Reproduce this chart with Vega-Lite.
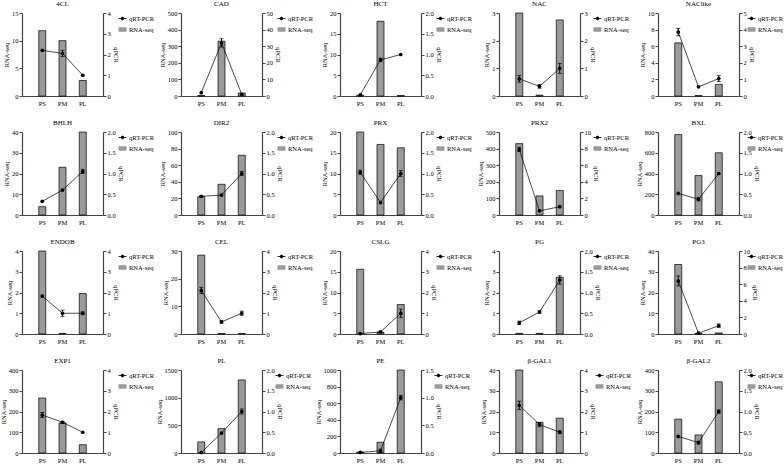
{
  "$schema": "https://vega.github.io/schema/vega-lite/v6.json",
  "padding": {"left": 0, "top": 0, "right": 0, "bottom": 0},
  "data": {
    "values": [
      {"gene": "4CL", "stage": "PS", "rna": 11.8, "qpcr": 2.2, "qlo": null, "qhi": null},
      {"gene": "4CL", "stage": "PM", "rna": 10.0, "qpcr": 2.05, "qlo": 1.9, "qhi": 2.2},
      {"gene": "4CL", "stage": "PL", "rna": 2.8, "qpcr": 1.0, "qlo": null, "qhi": null},
      {"gene": "CAD", "stage": "PS", "rna": 3, "qpcr": 2.0, "qlo": null, "qhi": null},
      {"gene": "CAD", "stage": "PM", "rna": 330, "qpcr": 32, "qlo": 29.5, "qhi": 34.5},
      {"gene": "CAD", "stage": "PL", "rna": 18, "qpcr": 1.0, "qlo": null, "qhi": null},
      {"gene": "HCT", "stage": "PS", "rna": 0.2, "qpcr": 0.03, "qlo": null, "qhi": null},
      {"gene": "HCT", "stage": "PM", "rna": 18, "qpcr": 0.87, "qlo": 0.83, "qhi": 0.91},
      {"gene": "HCT", "stage": "PL", "rna": 0.1, "qpcr": 1.0, "qlo": null, "qhi": null},
      {"gene": "NAC", "stage": "PS", "rna": 3, "qpcr": 0.62, "qlo": 0.5, "qhi": 0.74},
      {"gene": "NAC", "stage": "PM", "rna": 0.03, "qpcr": 0.35, "qlo": 0.28, "qhi": 0.42},
      {"gene": "NAC", "stage": "PL", "rna": 2.75, "qpcr": 1.0, "qlo": 0.82, "qhi": 1.18},
      {"gene": "NAClike", "stage": "PS", "rna": 6.4, "qpcr": 3.85, "qlo": 3.63, "qhi": 4.07},
      {"gene": "NAClike", "stage": "PM", "rna": 0.05, "qpcr": 0.55, "qlo": null, "qhi": null},
      {"gene": "NAClike", "stage": "PL", "rna": 1.4, "qpcr": 1.05, "qlo": 0.87, "qhi": 1.23},
      {"gene": "BHLH", "stage": "PS", "rna": 4, "qpcr": 0.33, "qlo": null, "qhi": null},
      {"gene": "BHLH", "stage": "PM", "rna": 23, "qpcr": 0.6, "qlo": null, "qhi": null},
      {"gene": "BHLH", "stage": "PL", "rna": 40, "qpcr": 1.05, "qlo": 1.0, "qhi": 1.1},
      {"gene": "DIR2", "stage": "PS", "rna": 22, "qpcr": 0.45, "qlo": 0.43, "qhi": 0.47},
      {"gene": "DIR2", "stage": "PM", "rna": 37, "qpcr": 0.48, "qlo": null, "qhi": null},
      {"gene": "DIR2", "stage": "PL", "rna": 72, "qpcr": 1.0, "qlo": 0.95, "qhi": 1.05},
      {"gene": "PRX", "stage": "PS", "rna": 20, "qpcr": 1.03, "qlo": 0.98, "qhi": 1.08},
      {"gene": "PRX", "stage": "PM", "rna": 17, "qpcr": 0.3, "qlo": null, "qhi": null},
      {"gene": "PRX", "stage": "PL", "rna": 16.2, "qpcr": 1.0, "qlo": 0.93, "qhi": 1.07},
      {"gene": "PRX2", "stage": "PS", "rna": 430, "qpcr": 7.9, "qlo": 7.65, "qhi": 8.15},
      {"gene": "PRX2", "stage": "PM", "rna": 115, "qpcr": 0.5, "qlo": null, "qhi": null},
      {"gene": "PRX2", "stage": "PL", "rna": 148, "qpcr": 1.0, "qlo": null, "qhi": null},
      {"gene": "BXL", "stage": "PS", "rna": 775, "qpcr": 0.52, "qlo": null, "qhi": null},
      {"gene": "BXL", "stage": "PM", "rna": 380, "qpcr": 0.38, "qlo": 0.34, "qhi": 0.42},
      {"gene": "BXL", "stage": "PL", "rna": 600, "qpcr": 1.0, "qlo": null, "qhi": null},
      {"gene": "ENDOB", "stage": "PS", "rna": 4, "qpcr": 1.83, "qlo": null, "qhi": null},
      {"gene": "ENDOB", "stage": "PM", "rna": 0.03, "qpcr": 1.0, "qlo": 0.85, "qhi": 1.15},
      {"gene": "ENDOB", "stage": "PL", "rna": 1.95, "qpcr": 1.0, "qlo": 0.93, "qhi": 1.07},
      {"gene": "CEL", "stage": "PS", "rna": 28.5, "qpcr": 2.1, "qlo": 1.95, "qhi": 2.25},
      {"gene": "CEL", "stage": "PM", "rna": 0.2, "qpcr": 0.58, "qlo": 0.52, "qhi": 0.64},
      {"gene": "CEL", "stage": "PL", "rna": 0.2, "qpcr": 1.0, "qlo": 0.9, "qhi": 1.1},
      {"gene": "CSLG", "stage": "PS", "rna": 15.6, "qpcr": 0.02, "qlo": null, "qhi": null},
      {"gene": "CSLG", "stage": "PM", "rna": 0.4, "qpcr": 0.1, "qlo": 0.07, "qhi": 0.13},
      {"gene": "CSLG", "stage": "PL", "rna": 7.1, "qpcr": 1.0, "qlo": 0.8, "qhi": 1.2},
      {"gene": "PG", "stage": "PS", "rna": 0.03, "qpcr": 0.27, "qlo": 0.23, "qhi": 0.31},
      {"gene": "PG", "stage": "PM", "rna": 0.03, "qpcr": 0.53, "qlo": 0.5, "qhi": 0.56},
      {"gene": "PG", "stage": "PL", "rna": 2.73, "qpcr": 1.3, "qlo": 1.2, "qhi": 1.4},
      {"gene": "PG3", "stage": "PS", "rna": 33.5, "qpcr": 6.4, "qlo": 5.8, "qhi": 7.0},
      {"gene": "PG3", "stage": "PM", "rna": 0.3, "qpcr": 0.1, "qlo": null, "qhi": null},
      {"gene": "PG3", "stage": "PL", "rna": 0.5, "qpcr": 1.0, "qlo": 0.8, "qhi": 1.2},
      {"gene": "EXP1", "stage": "PS", "rna": 265, "qpcr": 1.83, "qlo": 1.71, "qhi": 1.95},
      {"gene": "EXP1", "stage": "PM", "rna": 145, "qpcr": 1.48, "qlo": 1.43, "qhi": 1.53},
      {"gene": "EXP1", "stage": "PL", "rna": 40, "qpcr": 1.0, "qlo": null, "qhi": null},
      {"gene": "PL", "stage": "PS", "rna": 200, "qpcr": 0.01, "qlo": null, "qhi": null},
      {"gene": "PL", "stage": "PM", "rna": 440, "qpcr": 0.48, "qlo": null, "qhi": null},
      {"gene": "PL", "stage": "PL", "rna": 1320, "qpcr": 1.0, "qlo": 0.94, "qhi": 1.06},
      {"gene": "PE", "stage": "PS", "rna": 12, "qpcr": 0.01, "qlo": null, "qhi": null},
      {"gene": "PE", "stage": "PM", "rna": 130, "qpcr": 0.04, "qlo": 0.01, "qhi": 0.07},
      {"gene": "PE", "stage": "PL", "rna": 1000, "qpcr": 1.0, "qlo": 0.96, "qhi": 1.04},
      {"gene": "β-GAL1", "stage": "PS", "rna": 40, "qpcr": 2.3, "qlo": 2.1, "qhi": 2.5},
      {"gene": "β-GAL1", "stage": "PM", "rna": 14.8, "qpcr": 1.37, "qlo": 1.27, "qhi": 1.47},
      {"gene": "β-GAL1", "stage": "PL", "rna": 16.8, "qpcr": 1.0, "qlo": 0.93, "qhi": 1.07},
      {"gene": "β-GAL2", "stage": "PS", "rna": 163, "qpcr": 0.4, "qlo": null, "qhi": null},
      {"gene": "β-GAL2", "stage": "PM", "rna": 87, "qpcr": 0.25, "qlo": 0.22, "qhi": 0.28},
      {"gene": "β-GAL2", "stage": "PL", "rna": 343, "qpcr": 1.0, "qlo": 0.96, "qhi": 1.04}
    ]
  },
  "columns": 5,
  "spacing": {"row": 36, "column": 78},
  "bounds": "flush",
  "resolve": {"scale": {"color": "independent"}},
  "concat": [
    {"title": "4CL", "width": 81, "height": 83, "transform": [{"filter": "datum.gene === '4CL'"}],
     "encoding": {"x": {"field": "stage", "type": "nominal", "sort": ["PS", "PM", "PL"], "axis": {"title": null}}},
     "layer": [
       {"mark": {"type": "bar", "width": 7, "fill": "#9a9a9a", "stroke": "#000", "strokeWidth": 0.7},
        "encoding": {"y": {"field": "rna", "type": "quantitative", "scale": {"domain": [0, 15]}, "axis": {"title": "RNA-seq", "values": [0, 5, 10, 15], "format": "d"}}}},
       {"layer": [
         {"mark": {"type": "errorbar", "ticks": {"size": 4}, "color": "#000"}, "encoding": {"y": {"field": "qlo", "type": "quantitative", "scale": {"domain": [0, 4]}, "axis": {"orient": "right", "title": "qPCR", "values": [0, 1, 2, 3, 4], "format": "d"}}, "y2": {"field": "qhi"}}},
         {"mark": {"type": "line", "strokeWidth": 0.7, "point": {"filled": true, "size": 14}},
          "encoding": {"y": {"field": "qpcr", "type": "quantitative", "scale": {"domain": [0, 4]}, "axis": {"orient": "right", "title": "qPCR", "values": [0, 1, 2, 3, 4], "format": "d"}},
            "color": {"datum": "qRT-PCR", "scale": {"domain": ["qRT-PCR", "RNA-seq"], "range": ["#000", "#9a9a9a"]},
              "legend": {"title": null, "orient": "none", "legendX": 96, "legendY": 1, "encode": {"symbols": {"update": {"shape": {"signal": "datum.value === 'qRT-PCR' ? 'M-1,0H1M-0.35,0A0.35,0.35,0,1,1,0.35,0A0.35,0.35,0,1,1,-0.35,0Z' : 'M-0.9,-0.45H0.9V0.45H-0.9Z'"}, "fill": {"signal": "datum.value === 'qRT-PCR' ? '#000' : '#9a9a9a'"}, "stroke": {"value": "#000"}, "strokeWidth": {"value": 0.8}, "opacity": {"value": 1}}}}}}}}
       ]}
     ],
     "resolve": {"scale": {"y": "independent"}}},
    {"title": "CAD", "width": 81, "height": 83, "transform": [{"filter": "datum.gene === 'CAD'"}],
     "encoding": {"x": {"field": "stage", "type": "nominal", "sort": ["PS", "PM", "PL"], "axis": {"title": null}}},
     "layer": [
       {"mark": {"type": "bar", "width": 7, "fill": "#9a9a9a", "stroke": "#000", "strokeWidth": 0.7},
        "encoding": {"y": {"field": "rna", "type": "quantitative", "scale": {"domain": [0, 500]}, "axis": {"title": "RNA-seq", "values": [0, 100, 200, 300, 400, 500], "format": "d"}}}},
       {"layer": [
         {"mark": {"type": "errorbar", "ticks": {"size": 4}, "color": "#000"}, "encoding": {"y": {"field": "qlo", "type": "quantitative", "scale": {"domain": [0, 50]}, "axis": {"orient": "right", "title": "qPCR", "values": [0, 10, 20, 30, 40, 50], "format": "d"}}, "y2": {"field": "qhi"}}},
         {"mark": {"type": "line", "strokeWidth": 0.7, "point": {"filled": true, "size": 14}},
          "encoding": {"y": {"field": "qpcr", "type": "quantitative", "scale": {"domain": [0, 50]}, "axis": {"orient": "right", "title": "qPCR", "values": [0, 10, 20, 30, 40, 50], "format": "d"}},
            "color": {"datum": "qRT-PCR", "scale": {"domain": ["qRT-PCR", "RNA-seq"], "range": ["#000", "#9a9a9a"]},
              "legend": {"title": null, "orient": "none", "legendX": 96, "legendY": 1, "encode": {"symbols": {"update": {"shape": {"signal": "datum.value === 'qRT-PCR' ? 'M-1,0H1M-0.35,0A0.35,0.35,0,1,1,0.35,0A0.35,0.35,0,1,1,-0.35,0Z' : 'M-0.9,-0.45H0.9V0.45H-0.9Z'"}, "fill": {"signal": "datum.value === 'qRT-PCR' ? '#000' : '#9a9a9a'"}, "stroke": {"value": "#000"}, "strokeWidth": {"value": 0.8}, "opacity": {"value": 1}}}}}}}}
       ]}
     ],
     "resolve": {"scale": {"y": "independent"}}},
    {"title": "HCT", "width": 81, "height": 83, "transform": [{"filter": "datum.gene === 'HCT'"}],
     "encoding": {"x": {"field": "stage", "type": "nominal", "sort": ["PS", "PM", "PL"], "axis": {"title": null}}},
     "layer": [
       {"mark": {"type": "bar", "width": 7, "fill": "#9a9a9a", "stroke": "#000", "strokeWidth": 0.7},
        "encoding": {"y": {"field": "rna", "type": "quantitative", "scale": {"domain": [0, 20]}, "axis": {"title": "RNA-seq", "values": [0, 5, 10, 15, 20], "format": "d"}}}},
       {"layer": [
         {"mark": {"type": "errorbar", "ticks": {"size": 4}, "color": "#000"}, "encoding": {"y": {"field": "qlo", "type": "quantitative", "scale": {"domain": [0, 2]}, "axis": {"orient": "right", "title": "qPCR", "values": [0, 0.5, 1, 1.5, 2], "format": ".1f"}}, "y2": {"field": "qhi"}}},
         {"mark": {"type": "line", "strokeWidth": 0.7, "point": {"filled": true, "size": 14}},
          "encoding": {"y": {"field": "qpcr", "type": "quantitative", "scale": {"domain": [0, 2]}, "axis": {"orient": "right", "title": "qPCR", "values": [0, 0.5, 1, 1.5, 2], "format": ".1f"}},
            "color": {"datum": "qRT-PCR", "scale": {"domain": ["qRT-PCR", "RNA-seq"], "range": ["#000", "#9a9a9a"]},
              "legend": {"title": null, "orient": "none", "legendX": 96, "legendY": 1, "encode": {"symbols": {"update": {"shape": {"signal": "datum.value === 'qRT-PCR' ? 'M-1,0H1M-0.35,0A0.35,0.35,0,1,1,0.35,0A0.35,0.35,0,1,1,-0.35,0Z' : 'M-0.9,-0.45H0.9V0.45H-0.9Z'"}, "fill": {"signal": "datum.value === 'qRT-PCR' ? '#000' : '#9a9a9a'"}, "stroke": {"value": "#000"}, "strokeWidth": {"value": 0.8}, "opacity": {"value": 1}}}}}}}}
       ]}
     ],
     "resolve": {"scale": {"y": "independent"}}},
    {"title": "NAC", "width": 81, "height": 83, "transform": [{"filter": "datum.gene === 'NAC'"}],
     "encoding": {"x": {"field": "stage", "type": "nominal", "sort": ["PS", "PM", "PL"], "axis": {"title": null}}},
     "layer": [
       {"mark": {"type": "bar", "width": 7, "fill": "#9a9a9a", "stroke": "#000", "strokeWidth": 0.7},
        "encoding": {"y": {"field": "rna", "type": "quantitative", "scale": {"domain": [0, 3]}, "axis": {"title": "RNA-seq", "values": [0, 1, 2, 3], "format": "d"}}}},
       {"layer": [
         {"mark": {"type": "errorbar", "ticks": {"size": 4}, "color": "#000"}, "encoding": {"y": {"field": "qlo", "type": "quantitative", "scale": {"domain": [0, 3]}, "axis": {"orient": "right", "title": "qPCR", "values": [0, 1, 2, 3], "format": "d"}}, "y2": {"field": "qhi"}}},
         {"mark": {"type": "line", "strokeWidth": 0.7, "point": {"filled": true, "size": 14}},
          "encoding": {"y": {"field": "qpcr", "type": "quantitative", "scale": {"domain": [0, 3]}, "axis": {"orient": "right", "title": "qPCR", "values": [0, 1, 2, 3], "format": "d"}},
            "color": {"datum": "qRT-PCR", "scale": {"domain": ["qRT-PCR", "RNA-seq"], "range": ["#000", "#9a9a9a"]},
              "legend": {"title": null, "orient": "none", "legendX": 94, "legendY": 1, "encode": {"symbols": {"update": {"shape": {"signal": "datum.value === 'qRT-PCR' ? 'M-1,0H1M-0.35,0A0.35,0.35,0,1,1,0.35,0A0.35,0.35,0,1,1,-0.35,0Z' : 'M-0.9,-0.45H0.9V0.45H-0.9Z'"}, "fill": {"signal": "datum.value === 'qRT-PCR' ? '#000' : '#9a9a9a'"}, "stroke": {"value": "#000"}, "strokeWidth": {"value": 0.8}, "opacity": {"value": 1}}}}}}}}
       ]}
     ],
     "resolve": {"scale": {"y": "independent"}}},
    {"title": "NAClike", "width": 81, "height": 83, "transform": [{"filter": "datum.gene === 'NAClike'"}],
     "encoding": {"x": {"field": "stage", "type": "nominal", "sort": ["PS", "PM", "PL"], "axis": {"title": null}}},
     "layer": [
       {"mark": {"type": "bar", "width": 7, "fill": "#9a9a9a", "stroke": "#000", "strokeWidth": 0.7},
        "encoding": {"y": {"field": "rna", "type": "quantitative", "scale": {"domain": [0, 10]}, "axis": {"title": "RNA-seq", "values": [0, 2, 4, 6, 8, 10], "format": "d"}}}},
       {"layer": [
         {"mark": {"type": "errorbar", "ticks": {"size": 4}, "color": "#000"}, "encoding": {"y": {"field": "qlo", "type": "quantitative", "scale": {"domain": [0, 5]}, "axis": {"orient": "right", "title": "qPCR", "values": [0, 1, 2, 3, 4, 5], "format": "d"}}, "y2": {"field": "qhi"}}},
         {"mark": {"type": "line", "strokeWidth": 0.7, "point": {"filled": true, "size": 14}},
          "encoding": {"y": {"field": "qpcr", "type": "quantitative", "scale": {"domain": [0, 5]}, "axis": {"orient": "right", "title": "qPCR", "values": [0, 1, 2, 3, 4, 5], "format": "d"}},
            "color": {"datum": "qRT-PCR", "scale": {"domain": ["qRT-PCR", "RNA-seq"], "range": ["#000", "#9a9a9a"]},
              "legend": {"title": null, "orient": "none", "legendX": 89, "legendY": 1, "encode": {"symbols": {"update": {"shape": {"signal": "datum.value === 'qRT-PCR' ? 'M-1,0H1M-0.35,0A0.35,0.35,0,1,1,0.35,0A0.35,0.35,0,1,1,-0.35,0Z' : 'M-0.9,-0.45H0.9V0.45H-0.9Z'"}, "fill": {"signal": "datum.value === 'qRT-PCR' ? '#000' : '#9a9a9a'"}, "stroke": {"value": "#000"}, "strokeWidth": {"value": 0.8}, "opacity": {"value": 1}}}}}}}}
       ]}
     ],
     "resolve": {"scale": {"y": "independent"}}},
    {"title": "BHLH", "width": 81, "height": 83, "transform": [{"filter": "datum.gene === 'BHLH'"}],
     "encoding": {"x": {"field": "stage", "type": "nominal", "sort": ["PS", "PM", "PL"], "axis": {"title": null}}},
     "layer": [
       {"mark": {"type": "bar", "width": 7, "fill": "#9a9a9a", "stroke": "#000", "strokeWidth": 0.7},
        "encoding": {"y": {"field": "rna", "type": "quantitative", "scale": {"domain": [0, 40]}, "axis": {"title": "RNA-seq", "values": [0, 10, 20, 30, 40], "format": "d"}}}},
       {"layer": [
         {"mark": {"type": "errorbar", "ticks": {"size": 4}, "color": "#000"}, "encoding": {"y": {"field": "qlo", "type": "quantitative", "scale": {"domain": [0, 2]}, "axis": {"orient": "right", "title": "qPCR", "values": [0, 0.5, 1, 1.5, 2], "format": ".1f"}}, "y2": {"field": "qhi"}}},
         {"mark": {"type": "line", "strokeWidth": 0.7, "point": {"filled": true, "size": 14}},
          "encoding": {"y": {"field": "qpcr", "type": "quantitative", "scale": {"domain": [0, 2]}, "axis": {"orient": "right", "title": "qPCR", "values": [0, 0.5, 1, 1.5, 2], "format": ".1f"}},
            "color": {"datum": "qRT-PCR", "scale": {"domain": ["qRT-PCR", "RNA-seq"], "range": ["#000", "#9a9a9a"]},
              "legend": {"title": null, "orient": "none", "legendX": 96, "legendY": 1, "encode": {"symbols": {"update": {"shape": {"signal": "datum.value === 'qRT-PCR' ? 'M-1,0H1M-0.35,0A0.35,0.35,0,1,1,0.35,0A0.35,0.35,0,1,1,-0.35,0Z' : 'M-0.9,-0.45H0.9V0.45H-0.9Z'"}, "fill": {"signal": "datum.value === 'qRT-PCR' ? '#000' : '#9a9a9a'"}, "stroke": {"value": "#000"}, "strokeWidth": {"value": 0.8}, "opacity": {"value": 1}}}}}}}}
       ]}
     ],
     "resolve": {"scale": {"y": "independent"}}},
    {"title": "DIR2", "width": 81, "height": 83, "transform": [{"filter": "datum.gene === 'DIR2'"}],
     "encoding": {"x": {"field": "stage", "type": "nominal", "sort": ["PS", "PM", "PL"], "axis": {"title": null}}},
     "layer": [
       {"mark": {"type": "bar", "width": 7, "fill": "#9a9a9a", "stroke": "#000", "strokeWidth": 0.7},
        "encoding": {"y": {"field": "rna", "type": "quantitative", "scale": {"domain": [0, 100]}, "axis": {"title": "RNA-seq", "values": [0, 20, 40, 60, 80, 100], "format": "d"}}}},
       {"layer": [
         {"mark": {"type": "errorbar", "ticks": {"size": 4}, "color": "#000"}, "encoding": {"y": {"field": "qlo", "type": "quantitative", "scale": {"domain": [0, 2]}, "axis": {"orient": "right", "title": "qPCR", "values": [0, 0.5, 1, 1.5, 2], "format": ".1f"}}, "y2": {"field": "qhi"}}},
         {"mark": {"type": "line", "strokeWidth": 0.7, "point": {"filled": true, "size": 14}},
          "encoding": {"y": {"field": "qpcr", "type": "quantitative", "scale": {"domain": [0, 2]}, "axis": {"orient": "right", "title": "qPCR", "values": [0, 0.5, 1, 1.5, 2], "format": ".1f"}},
            "color": {"datum": "qRT-PCR", "scale": {"domain": ["qRT-PCR", "RNA-seq"], "range": ["#000", "#9a9a9a"]},
              "legend": {"title": null, "orient": "none", "legendX": 96, "legendY": 1, "encode": {"symbols": {"update": {"shape": {"signal": "datum.value === 'qRT-PCR' ? 'M-1,0H1M-0.35,0A0.35,0.35,0,1,1,0.35,0A0.35,0.35,0,1,1,-0.35,0Z' : 'M-0.9,-0.45H0.9V0.45H-0.9Z'"}, "fill": {"signal": "datum.value === 'qRT-PCR' ? '#000' : '#9a9a9a'"}, "stroke": {"value": "#000"}, "strokeWidth": {"value": 0.8}, "opacity": {"value": 1}}}}}}}}
       ]}
     ],
     "resolve": {"scale": {"y": "independent"}}},
    {"title": "PRX", "width": 81, "height": 83, "transform": [{"filter": "datum.gene === 'PRX'"}],
     "encoding": {"x": {"field": "stage", "type": "nominal", "sort": ["PS", "PM", "PL"], "axis": {"title": null}}},
     "layer": [
       {"mark": {"type": "bar", "width": 7, "fill": "#9a9a9a", "stroke": "#000", "strokeWidth": 0.7},
        "encoding": {"y": {"field": "rna", "type": "quantitative", "scale": {"domain": [0, 20]}, "axis": {"title": "RNA-seq", "values": [0, 5, 10, 15, 20], "format": "d"}}}},
       {"layer": [
         {"mark": {"type": "errorbar", "ticks": {"size": 4}, "color": "#000"}, "encoding": {"y": {"field": "qlo", "type": "quantitative", "scale": {"domain": [0, 2]}, "axis": {"orient": "right", "title": "qPCR", "values": [0, 0.5, 1, 1.5, 2], "format": ".1f"}}, "y2": {"field": "qhi"}}},
         {"mark": {"type": "line", "strokeWidth": 0.7, "point": {"filled": true, "size": 14}},
          "encoding": {"y": {"field": "qpcr", "type": "quantitative", "scale": {"domain": [0, 2]}, "axis": {"orient": "right", "title": "qPCR", "values": [0, 0.5, 1, 1.5, 2], "format": ".1f"}},
            "color": {"datum": "qRT-PCR", "scale": {"domain": ["qRT-PCR", "RNA-seq"], "range": ["#000", "#9a9a9a"]},
              "legend": {"title": null, "orient": "none", "legendX": 96, "legendY": 1, "encode": {"symbols": {"update": {"shape": {"signal": "datum.value === 'qRT-PCR' ? 'M-1,0H1M-0.35,0A0.35,0.35,0,1,1,0.35,0A0.35,0.35,0,1,1,-0.35,0Z' : 'M-0.9,-0.45H0.9V0.45H-0.9Z'"}, "fill": {"signal": "datum.value === 'qRT-PCR' ? '#000' : '#9a9a9a'"}, "stroke": {"value": "#000"}, "strokeWidth": {"value": 0.8}, "opacity": {"value": 1}}}}}}}}
       ]}
     ],
     "resolve": {"scale": {"y": "independent"}}},
    {"title": "PRX2", "width": 81, "height": 83, "transform": [{"filter": "datum.gene === 'PRX2'"}],
     "encoding": {"x": {"field": "stage", "type": "nominal", "sort": ["PS", "PM", "PL"], "axis": {"title": null}}},
     "layer": [
       {"mark": {"type": "bar", "width": 7, "fill": "#9a9a9a", "stroke": "#000", "strokeWidth": 0.7},
        "encoding": {"y": {"field": "rna", "type": "quantitative", "scale": {"domain": [0, 500]}, "axis": {"title": "RNA-seq", "values": [0, 100, 200, 300, 400, 500], "format": "d"}}}},
       {"layer": [
         {"mark": {"type": "errorbar", "ticks": {"size": 4}, "color": "#000"}, "encoding": {"y": {"field": "qlo", "type": "quantitative", "scale": {"domain": [0, 10]}, "axis": {"orient": "right", "title": "qPCR", "values": [0, 2, 4, 6, 8, 10], "format": "d"}}, "y2": {"field": "qhi"}}},
         {"mark": {"type": "line", "strokeWidth": 0.7, "point": {"filled": true, "size": 14}},
          "encoding": {"y": {"field": "qpcr", "type": "quantitative", "scale": {"domain": [0, 10]}, "axis": {"orient": "right", "title": "qPCR", "values": [0, 2, 4, 6, 8, 10], "format": "d"}},
            "color": {"datum": "qRT-PCR", "scale": {"domain": ["qRT-PCR", "RNA-seq"], "range": ["#000", "#9a9a9a"]},
              "legend": {"title": null, "orient": "none", "legendX": 94, "legendY": 1, "encode": {"symbols": {"update": {"shape": {"signal": "datum.value === 'qRT-PCR' ? 'M-1,0H1M-0.35,0A0.35,0.35,0,1,1,0.35,0A0.35,0.35,0,1,1,-0.35,0Z' : 'M-0.9,-0.45H0.9V0.45H-0.9Z'"}, "fill": {"signal": "datum.value === 'qRT-PCR' ? '#000' : '#9a9a9a'"}, "stroke": {"value": "#000"}, "strokeWidth": {"value": 0.8}, "opacity": {"value": 1}}}}}}}}
       ]}
     ],
     "resolve": {"scale": {"y": "independent"}}},
    {"title": "BXL", "width": 81, "height": 83, "transform": [{"filter": "datum.gene === 'BXL'"}],
     "encoding": {"x": {"field": "stage", "type": "nominal", "sort": ["PS", "PM", "PL"], "axis": {"title": null}}},
     "layer": [
       {"mark": {"type": "bar", "width": 7, "fill": "#9a9a9a", "stroke": "#000", "strokeWidth": 0.7},
        "encoding": {"y": {"field": "rna", "type": "quantitative", "scale": {"domain": [0, 800]}, "axis": {"title": "RNA-seq", "values": [0, 200, 400, 600, 800], "format": "d"}}}},
       {"layer": [
         {"mark": {"type": "errorbar", "ticks": {"size": 4}, "color": "#000"}, "encoding": {"y": {"field": "qlo", "type": "quantitative", "scale": {"domain": [0, 2]}, "axis": {"orient": "right", "title": "qPCR", "values": [0, 0.5, 1, 1.5, 2], "format": ".1f"}}, "y2": {"field": "qhi"}}},
         {"mark": {"type": "line", "strokeWidth": 0.7, "point": {"filled": true, "size": 14}},
          "encoding": {"y": {"field": "qpcr", "type": "quantitative", "scale": {"domain": [0, 2]}, "axis": {"orient": "right", "title": "qPCR", "values": [0, 0.5, 1, 1.5, 2], "format": ".1f"}},
            "color": {"datum": "qRT-PCR", "scale": {"domain": ["qRT-PCR", "RNA-seq"], "range": ["#000", "#9a9a9a"]},
              "legend": {"title": null, "orient": "none", "legendX": 89, "legendY": 1, "encode": {"symbols": {"update": {"shape": {"signal": "datum.value === 'qRT-PCR' ? 'M-1,0H1M-0.35,0A0.35,0.35,0,1,1,0.35,0A0.35,0.35,0,1,1,-0.35,0Z' : 'M-0.9,-0.45H0.9V0.45H-0.9Z'"}, "fill": {"signal": "datum.value === 'qRT-PCR' ? '#000' : '#9a9a9a'"}, "stroke": {"value": "#000"}, "strokeWidth": {"value": 0.8}, "opacity": {"value": 1}}}}}}}}
       ]}
     ],
     "resolve": {"scale": {"y": "independent"}}},
    {"title": "ENDOB", "width": 81, "height": 83, "transform": [{"filter": "datum.gene === 'ENDOB'"}],
     "encoding": {"x": {"field": "stage", "type": "nominal", "sort": ["PS", "PM", "PL"], "axis": {"title": null}}},
     "layer": [
       {"mark": {"type": "bar", "width": 7, "fill": "#9a9a9a", "stroke": "#000", "strokeWidth": 0.7},
        "encoding": {"y": {"field": "rna", "type": "quantitative", "scale": {"domain": [0, 4]}, "axis": {"title": "RNA-seq", "values": [0, 1, 2, 3, 4], "format": "d"}}}},
       {"layer": [
         {"mark": {"type": "errorbar", "ticks": {"size": 4}, "color": "#000"}, "encoding": {"y": {"field": "qlo", "type": "quantitative", "scale": {"domain": [0, 4]}, "axis": {"orient": "right", "title": "qPCR", "values": [0, 1, 2, 3, 4], "format": "d"}}, "y2": {"field": "qhi"}}},
         {"mark": {"type": "line", "strokeWidth": 0.7, "point": {"filled": true, "size": 14}},
          "encoding": {"y": {"field": "qpcr", "type": "quantitative", "scale": {"domain": [0, 4]}, "axis": {"orient": "right", "title": "qPCR", "values": [0, 1, 2, 3, 4], "format": "d"}},
            "color": {"datum": "qRT-PCR", "scale": {"domain": ["qRT-PCR", "RNA-seq"], "range": ["#000", "#9a9a9a"]},
              "legend": {"title": null, "orient": "none", "legendX": 96, "legendY": 1, "encode": {"symbols": {"update": {"shape": {"signal": "datum.value === 'qRT-PCR' ? 'M-1,0H1M-0.35,0A0.35,0.35,0,1,1,0.35,0A0.35,0.35,0,1,1,-0.35,0Z' : 'M-0.9,-0.45H0.9V0.45H-0.9Z'"}, "fill": {"signal": "datum.value === 'qRT-PCR' ? '#000' : '#9a9a9a'"}, "stroke": {"value": "#000"}, "strokeWidth": {"value": 0.8}, "opacity": {"value": 1}}}}}}}}
       ]}
     ],
     "resolve": {"scale": {"y": "independent"}}},
    {"title": "CEL", "width": 81, "height": 83, "transform": [{"filter": "datum.gene === 'CEL'"}],
     "encoding": {"x": {"field": "stage", "type": "nominal", "sort": ["PS", "PM", "PL"], "axis": {"title": null}}},
     "layer": [
       {"mark": {"type": "bar", "width": 7, "fill": "#9a9a9a", "stroke": "#000", "strokeWidth": 0.7},
        "encoding": {"y": {"field": "rna", "type": "quantitative", "scale": {"domain": [0, 30]}, "axis": {"title": "RNA-seq", "values": [0, 10, 20, 30], "format": "d"}}}},
       {"layer": [
         {"mark": {"type": "errorbar", "ticks": {"size": 4}, "color": "#000"}, "encoding": {"y": {"field": "qlo", "type": "quantitative", "scale": {"domain": [0, 4]}, "axis": {"orient": "right", "title": "qPCR", "values": [0, 1, 2, 3, 4], "format": "d"}}, "y2": {"field": "qhi"}}},
         {"mark": {"type": "line", "strokeWidth": 0.7, "point": {"filled": true, "size": 14}},
          "encoding": {"y": {"field": "qpcr", "type": "quantitative", "scale": {"domain": [0, 4]}, "axis": {"orient": "right", "title": "qPCR", "values": [0, 1, 2, 3, 4], "format": "d"}},
            "color": {"datum": "qRT-PCR", "scale": {"domain": ["qRT-PCR", "RNA-seq"], "range": ["#000", "#9a9a9a"]},
              "legend": {"title": null, "orient": "none", "legendX": 96, "legendY": 1, "encode": {"symbols": {"update": {"shape": {"signal": "datum.value === 'qRT-PCR' ? 'M-1,0H1M-0.35,0A0.35,0.35,0,1,1,0.35,0A0.35,0.35,0,1,1,-0.35,0Z' : 'M-0.9,-0.45H0.9V0.45H-0.9Z'"}, "fill": {"signal": "datum.value === 'qRT-PCR' ? '#000' : '#9a9a9a'"}, "stroke": {"value": "#000"}, "strokeWidth": {"value": 0.8}, "opacity": {"value": 1}}}}}}}}
       ]}
     ],
     "resolve": {"scale": {"y": "independent"}}},
    {"title": "CSLG", "width": 81, "height": 83, "transform": [{"filter": "datum.gene === 'CSLG'"}],
     "encoding": {"x": {"field": "stage", "type": "nominal", "sort": ["PS", "PM", "PL"], "axis": {"title": null}}},
     "layer": [
       {"mark": {"type": "bar", "width": 7, "fill": "#9a9a9a", "stroke": "#000", "strokeWidth": 0.7},
        "encoding": {"y": {"field": "rna", "type": "quantitative", "scale": {"domain": [0, 20]}, "axis": {"title": "RNA-seq", "values": [0, 5, 10, 15, 20], "format": "d"}}}},
       {"layer": [
         {"mark": {"type": "errorbar", "ticks": {"size": 4}, "color": "#000"}, "encoding": {"y": {"field": "qlo", "type": "quantitative", "scale": {"domain": [0, 4]}, "axis": {"orient": "right", "title": "qPCR", "values": [0, 1, 2, 3, 4], "format": "d"}}, "y2": {"field": "qhi"}}},
         {"mark": {"type": "line", "strokeWidth": 0.7, "point": {"filled": true, "size": 14}},
          "encoding": {"y": {"field": "qpcr", "type": "quantitative", "scale": {"domain": [0, 4]}, "axis": {"orient": "right", "title": "qPCR", "values": [0, 1, 2, 3, 4], "format": "d"}},
            "color": {"datum": "qRT-PCR", "scale": {"domain": ["qRT-PCR", "RNA-seq"], "range": ["#000", "#9a9a9a"]},
              "legend": {"title": null, "orient": "none", "legendX": 96, "legendY": 1, "encode": {"symbols": {"update": {"shape": {"signal": "datum.value === 'qRT-PCR' ? 'M-1,0H1M-0.35,0A0.35,0.35,0,1,1,0.35,0A0.35,0.35,0,1,1,-0.35,0Z' : 'M-0.9,-0.45H0.9V0.45H-0.9Z'"}, "fill": {"signal": "datum.value === 'qRT-PCR' ? '#000' : '#9a9a9a'"}, "stroke": {"value": "#000"}, "strokeWidth": {"value": 0.8}, "opacity": {"value": 1}}}}}}}}
       ]}
     ],
     "resolve": {"scale": {"y": "independent"}}},
    {"title": "PG", "width": 81, "height": 83, "transform": [{"filter": "datum.gene === 'PG'"}],
     "encoding": {"x": {"field": "stage", "type": "nominal", "sort": ["PS", "PM", "PL"], "axis": {"title": null}}},
     "layer": [
       {"mark": {"type": "bar", "width": 7, "fill": "#9a9a9a", "stroke": "#000", "strokeWidth": 0.7},
        "encoding": {"y": {"field": "rna", "type": "quantitative", "scale": {"domain": [0, 4]}, "axis": {"title": "RNA-seq", "values": [0, 1, 2, 3, 4], "format": "d"}}}},
       {"layer": [
         {"mark": {"type": "errorbar", "ticks": {"size": 4}, "color": "#000"}, "encoding": {"y": {"field": "qlo", "type": "quantitative", "scale": {"domain": [0, 2]}, "axis": {"orient": "right", "title": "qPCR", "values": [0, 0.5, 1, 1.5, 2], "format": ".1f"}}, "y2": {"field": "qhi"}}},
         {"mark": {"type": "line", "strokeWidth": 0.7, "point": {"filled": true, "size": 14}},
          "encoding": {"y": {"field": "qpcr", "type": "quantitative", "scale": {"domain": [0, 2]}, "axis": {"orient": "right", "title": "qPCR", "values": [0, 0.5, 1, 1.5, 2], "format": ".1f"}},
            "color": {"datum": "qRT-PCR", "scale": {"domain": ["qRT-PCR", "RNA-seq"], "range": ["#000", "#9a9a9a"]},
              "legend": {"title": null, "orient": "none", "legendX": 94, "legendY": 1, "encode": {"symbols": {"update": {"shape": {"signal": "datum.value === 'qRT-PCR' ? 'M-1,0H1M-0.35,0A0.35,0.35,0,1,1,0.35,0A0.35,0.35,0,1,1,-0.35,0Z' : 'M-0.9,-0.45H0.9V0.45H-0.9Z'"}, "fill": {"signal": "datum.value === 'qRT-PCR' ? '#000' : '#9a9a9a'"}, "stroke": {"value": "#000"}, "strokeWidth": {"value": 0.8}, "opacity": {"value": 1}}}}}}}}
       ]}
     ],
     "resolve": {"scale": {"y": "independent"}}},
    {"title": "PG3", "width": 81, "height": 83, "transform": [{"filter": "datum.gene === 'PG3'"}],
     "encoding": {"x": {"field": "stage", "type": "nominal", "sort": ["PS", "PM", "PL"], "axis": {"title": null}}},
     "layer": [
       {"mark": {"type": "bar", "width": 7, "fill": "#9a9a9a", "stroke": "#000", "strokeWidth": 0.7},
        "encoding": {"y": {"field": "rna", "type": "quantitative", "scale": {"domain": [0, 40]}, "axis": {"title": "RNA-seq", "values": [0, 10, 20, 30, 40], "format": "d"}}}},
       {"layer": [
         {"mark": {"type": "errorbar", "ticks": {"size": 4}, "color": "#000"}, "encoding": {"y": {"field": "qlo", "type": "quantitative", "scale": {"domain": [0, 10]}, "axis": {"orient": "right", "title": "qPCR", "values": [0, 2, 4, 6, 8, 10], "format": "d"}}, "y2": {"field": "qhi"}}},
         {"mark": {"type": "line", "strokeWidth": 0.7, "point": {"filled": true, "size": 14}},
          "encoding": {"y": {"field": "qpcr", "type": "quantitative", "scale": {"domain": [0, 10]}, "axis": {"orient": "right", "title": "qPCR", "values": [0, 2, 4, 6, 8, 10], "format": "d"}},
            "color": {"datum": "qRT-PCR", "scale": {"domain": ["qRT-PCR", "RNA-seq"], "range": ["#000", "#9a9a9a"]},
              "legend": {"title": null, "orient": "none", "legendX": 89, "legendY": 1, "encode": {"symbols": {"update": {"shape": {"signal": "datum.value === 'qRT-PCR' ? 'M-1,0H1M-0.35,0A0.35,0.35,0,1,1,0.35,0A0.35,0.35,0,1,1,-0.35,0Z' : 'M-0.9,-0.45H0.9V0.45H-0.9Z'"}, "fill": {"signal": "datum.value === 'qRT-PCR' ? '#000' : '#9a9a9a'"}, "stroke": {"value": "#000"}, "strokeWidth": {"value": 0.8}, "opacity": {"value": 1}}}}}}}}
       ]}
     ],
     "resolve": {"scale": {"y": "independent"}}},
    {"title": "EXP1", "width": 81, "height": 83, "transform": [{"filter": "datum.gene === 'EXP1'"}],
     "encoding": {"x": {"field": "stage", "type": "nominal", "sort": ["PS", "PM", "PL"], "axis": {"title": null}}},
     "layer": [
       {"mark": {"type": "bar", "width": 7, "fill": "#9a9a9a", "stroke": "#000", "strokeWidth": 0.7},
        "encoding": {"y": {"field": "rna", "type": "quantitative", "scale": {"domain": [0, 400]}, "axis": {"title": "RNA-seq", "values": [0, 100, 200, 300, 400], "format": "d"}}}},
       {"layer": [
         {"mark": {"type": "errorbar", "ticks": {"size": 4}, "color": "#000"}, "encoding": {"y": {"field": "qlo", "type": "quantitative", "scale": {"domain": [0, 4]}, "axis": {"orient": "right", "title": "qPCR", "values": [0, 1, 2, 3, 4], "format": "d"}}, "y2": {"field": "qhi"}}},
         {"mark": {"type": "line", "strokeWidth": 0.7, "point": {"filled": true, "size": 14}},
          "encoding": {"y": {"field": "qpcr", "type": "quantitative", "scale": {"domain": [0, 4]}, "axis": {"orient": "right", "title": "qPCR", "values": [0, 1, 2, 3, 4], "format": "d"}},
            "color": {"datum": "qRT-PCR", "scale": {"domain": ["qRT-PCR", "RNA-seq"], "range": ["#000", "#9a9a9a"]},
              "legend": {"title": null, "orient": "none", "legendX": 96, "legendY": 1, "encode": {"symbols": {"update": {"shape": {"signal": "datum.value === 'qRT-PCR' ? 'M-1,0H1M-0.35,0A0.35,0.35,0,1,1,0.35,0A0.35,0.35,0,1,1,-0.35,0Z' : 'M-0.9,-0.45H0.9V0.45H-0.9Z'"}, "fill": {"signal": "datum.value === 'qRT-PCR' ? '#000' : '#9a9a9a'"}, "stroke": {"value": "#000"}, "strokeWidth": {"value": 0.8}, "opacity": {"value": 1}}}}}}}}
       ]}
     ],
     "resolve": {"scale": {"y": "independent"}}},
    {"title": "PL", "width": 81, "height": 83, "transform": [{"filter": "datum.gene === 'PL'"}],
     "encoding": {"x": {"field": "stage", "type": "nominal", "sort": ["PS", "PM", "PL"], "axis": {"title": null}}},
     "layer": [
       {"mark": {"type": "bar", "width": 7, "fill": "#9a9a9a", "stroke": "#000", "strokeWidth": 0.7},
        "encoding": {"y": {"field": "rna", "type": "quantitative", "scale": {"domain": [0, 1500]}, "axis": {"title": "RNA-seq", "values": [0, 500, 1000, 1500], "format": "d"}}}},
       {"layer": [
         {"mark": {"type": "errorbar", "ticks": {"size": 4}, "color": "#000"}, "encoding": {"y": {"field": "qlo", "type": "quantitative", "scale": {"domain": [0, 2]}, "axis": {"orient": "right", "title": "qPCR", "values": [0, 0.5, 1, 1.5, 2], "format": ".1f"}}, "y2": {"field": "qhi"}}},
         {"mark": {"type": "line", "strokeWidth": 0.7, "point": {"filled": true, "size": 14}},
          "encoding": {"y": {"field": "qpcr", "type": "quantitative", "scale": {"domain": [0, 2]}, "axis": {"orient": "right", "title": "qPCR", "values": [0, 0.5, 1, 1.5, 2], "format": ".1f"}},
            "color": {"datum": "qRT-PCR", "scale": {"domain": ["qRT-PCR", "RNA-seq"], "range": ["#000", "#9a9a9a"]},
              "legend": {"title": null, "orient": "none", "legendX": 94, "legendY": 1, "encode": {"symbols": {"update": {"shape": {"signal": "datum.value === 'qRT-PCR' ? 'M-1,0H1M-0.35,0A0.35,0.35,0,1,1,0.35,0A0.35,0.35,0,1,1,-0.35,0Z' : 'M-0.9,-0.45H0.9V0.45H-0.9Z'"}, "fill": {"signal": "datum.value === 'qRT-PCR' ? '#000' : '#9a9a9a'"}, "stroke": {"value": "#000"}, "strokeWidth": {"value": 0.8}, "opacity": {"value": 1}}}}}}}}
       ]}
     ],
     "resolve": {"scale": {"y": "independent"}}},
    {"title": "PE", "width": 81, "height": 83, "transform": [{"filter": "datum.gene === 'PE'"}],
     "encoding": {"x": {"field": "stage", "type": "nominal", "sort": ["PS", "PM", "PL"], "axis": {"title": null}}},
     "layer": [
       {"mark": {"type": "bar", "width": 7, "fill": "#9a9a9a", "stroke": "#000", "strokeWidth": 0.7},
        "encoding": {"y": {"field": "rna", "type": "quantitative", "scale": {"domain": [0, 1000]}, "axis": {"title": "RNA-seq", "values": [0, 200, 400, 600, 800, 1000], "format": "d"}}}},
       {"layer": [
         {"mark": {"type": "errorbar", "ticks": {"size": 4}, "color": "#000"}, "encoding": {"y": {"field": "qlo", "type": "quantitative", "scale": {"domain": [0, 1.5]}, "axis": {"orient": "right", "title": "qPCR", "values": [0, 0.5, 1, 1.5], "format": ".1f"}}, "y2": {"field": "qhi"}}},
         {"mark": {"type": "line", "strokeWidth": 0.7, "point": {"filled": true, "size": 14}},
          "encoding": {"y": {"field": "qpcr", "type": "quantitative", "scale": {"domain": [0, 1.5]}, "axis": {"orient": "right", "title": "qPCR", "values": [0, 0.5, 1, 1.5], "format": ".1f"}},
            "color": {"datum": "qRT-PCR", "scale": {"domain": ["qRT-PCR", "RNA-seq"], "range": ["#000", "#9a9a9a"]},
              "legend": {"title": null, "orient": "none", "legendX": 94, "legendY": 1, "encode": {"symbols": {"update": {"shape": {"signal": "datum.value === 'qRT-PCR' ? 'M-1,0H1M-0.35,0A0.35,0.35,0,1,1,0.35,0A0.35,0.35,0,1,1,-0.35,0Z' : 'M-0.9,-0.45H0.9V0.45H-0.9Z'"}, "fill": {"signal": "datum.value === 'qRT-PCR' ? '#000' : '#9a9a9a'"}, "stroke": {"value": "#000"}, "strokeWidth": {"value": 0.8}, "opacity": {"value": 1}}}}}}}}
       ]}
     ],
     "resolve": {"scale": {"y": "independent"}}},
    {"title": "β-GAL1", "width": 81, "height": 83, "transform": [{"filter": "datum.gene === 'β-GAL1'"}],
     "encoding": {"x": {"field": "stage", "type": "nominal", "sort": ["PS", "PM", "PL"], "axis": {"title": null}}},
     "layer": [
       {"mark": {"type": "bar", "width": 7, "fill": "#9a9a9a", "stroke": "#000", "strokeWidth": 0.7},
        "encoding": {"y": {"field": "rna", "type": "quantitative", "scale": {"domain": [0, 40]}, "axis": {"title": "RNA-seq", "values": [0, 10, 20, 30, 40], "format": "d"}}}},
       {"layer": [
         {"mark": {"type": "errorbar", "ticks": {"size": 4}, "color": "#000"}, "encoding": {"y": {"field": "qlo", "type": "quantitative", "scale": {"domain": [0, 4]}, "axis": {"orient": "right", "title": "qPCR", "values": [0, 1, 2, 3, 4], "format": "d"}}, "y2": {"field": "qhi"}}},
         {"mark": {"type": "line", "strokeWidth": 0.7, "point": {"filled": true, "size": 14}},
          "encoding": {"y": {"field": "qpcr", "type": "quantitative", "scale": {"domain": [0, 4]}, "axis": {"orient": "right", "title": "qPCR", "values": [0, 1, 2, 3, 4], "format": "d"}},
            "color": {"datum": "qRT-PCR", "scale": {"domain": ["qRT-PCR", "RNA-seq"], "range": ["#000", "#9a9a9a"]},
              "legend": {"title": null, "orient": "none", "legendX": 96, "legendY": 1, "encode": {"symbols": {"update": {"shape": {"signal": "datum.value === 'qRT-PCR' ? 'M-1,0H1M-0.35,0A0.35,0.35,0,1,1,0.35,0A0.35,0.35,0,1,1,-0.35,0Z' : 'M-0.9,-0.45H0.9V0.45H-0.9Z'"}, "fill": {"signal": "datum.value === 'qRT-PCR' ? '#000' : '#9a9a9a'"}, "stroke": {"value": "#000"}, "strokeWidth": {"value": 0.8}, "opacity": {"value": 1}}}}}}}}
       ]}
     ],
     "resolve": {"scale": {"y": "independent"}}},
    {"title": "β-GAL2", "width": 81, "height": 83, "transform": [{"filter": "datum.gene === 'β-GAL2'"}],
     "encoding": {"x": {"field": "stage", "type": "nominal", "sort": ["PS", "PM", "PL"], "axis": {"title": null}}},
     "layer": [
       {"mark": {"type": "bar", "width": 7, "fill": "#9a9a9a", "stroke": "#000", "strokeWidth": 0.7},
        "encoding": {"y": {"field": "rna", "type": "quantitative", "scale": {"domain": [0, 400]}, "axis": {"title": "RNA-seq", "values": [0, 100, 200, 300, 400], "format": "d"}}}},
       {"layer": [
         {"mark": {"type": "errorbar", "ticks": {"size": 4}, "color": "#000"}, "encoding": {"y": {"field": "qlo", "type": "quantitative", "scale": {"domain": [0, 2]}, "axis": {"orient": "right", "title": "qPCR", "values": [0, 0.5, 1, 1.5, 2], "format": ".1f"}}, "y2": {"field": "qhi"}}},
         {"mark": {"type": "line", "strokeWidth": 0.7, "point": {"filled": true, "size": 14}},
          "encoding": {"y": {"field": "qpcr", "type": "quantitative", "scale": {"domain": [0, 2]}, "axis": {"orient": "right", "title": "qPCR", "values": [0, 0.5, 1, 1.5, 2], "format": ".1f"}},
            "color": {"datum": "qRT-PCR", "scale": {"domain": ["qRT-PCR", "RNA-seq"], "range": ["#000", "#9a9a9a"]},
              "legend": {"title": null, "orient": "none", "legendX": 89, "legendY": 1, "encode": {"symbols": {"update": {"shape": {"signal": "datum.value === 'qRT-PCR' ? 'M-1,0H1M-0.35,0A0.35,0.35,0,1,1,0.35,0A0.35,0.35,0,1,1,-0.35,0Z' : 'M-0.9,-0.45H0.9V0.45H-0.9Z'"}, "fill": {"signal": "datum.value === 'qRT-PCR' ? '#000' : '#9a9a9a'"}, "stroke": {"value": "#000"}, "strokeWidth": {"value": 0.8}, "opacity": {"value": 1}}}}}}}}
       ]}
     ],
     "resolve": {"scale": {"y": "independent"}}}
  ],
  "config": {
    "font": "Liberation Serif",
    "view": {"stroke": null},
    "scale": {"bandPaddingInner": 0, "barBandPaddingInner": 0, "bandPaddingOuter": 0.5},
    "axis": {"labelFont": "Liberation Serif", "titleFont": "Liberation Serif", "labelFontSize": 6.5, "titleFontSize": 6.5, "titleFontWeight": "normal", "grid": false, "domainColor": "#444", "domainWidth": 1.2, "tickColor": "#444", "tickSize": 3, "labelPadding": 1, "titlePadding": 2, "labelColor": "#000", "titleColor": "#000"},
    "axisX": {"ticks": false, "labelPadding": 4, "labelAngle": 0},
    "legend": {"symbolSize": 64, "labelFont": "Liberation Serif", "labelFontSize": 6.5, "labelColor": "#000", "rowPadding": 3, "labelOffset": 2, "padding": 0},
    "title": {"font": "Liberation Serif", "fontSize": 7, "fontWeight": "normal", "color": "#000", "offset": 3}
  }
}
